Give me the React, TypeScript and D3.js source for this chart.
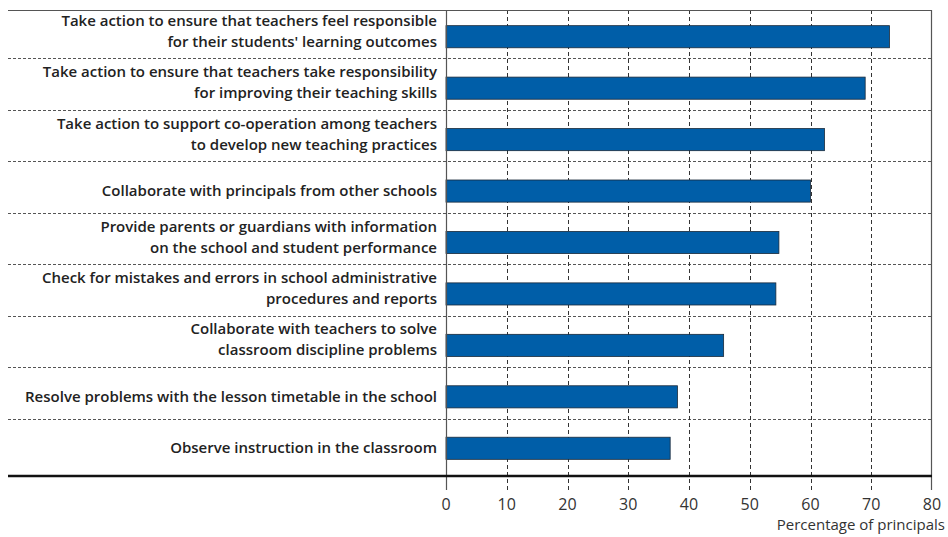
import React from "react";
import * as d3 from "d3";

const categories: string[][] = [
  ["Take action to ensure that teachers feel responsible", "for their students' learning outcomes"],
  ["Take action to ensure that teachers take responsibility", "for improving their teaching skills"],
  ["Take action to support co-operation among teachers", "to develop new teaching practices"],
  ["Collaborate with principals from other schools"],
  ["Provide parents or guardians with information", "on the school and student performance"],
  ["Check for mistakes and errors in school administrative", "procedures and reports"],
  ["Collaborate with teachers to solve", "classroom discipline problems"],
  ["Resolve problems with the lesson timetable in the school"],
  ["Observe instruction in the classroom"],
];
const values: number[] = [73.0, 69.0, 62.3, 60.0, 54.8, 54.3, 45.7, 38.1, 36.9];
const xTicks: number[] = [0, 10, 20, 30, 40, 50, 60, 70, 80];
const xTitle = "Percentage of principals";

const W = 948;
const H = 537;
const left = 446;
const right = 932;
const top = 10;
const bottom = 476;
const frameLeft = 8;

export default function App() {
  const ids = categories.map((_, i) => String(i));
  const x = d3.scaleLinear().domain([0, 80]).range([left, right]);
  const y = d3.scaleBand<string>().domain(ids).range([11, 474]).paddingInner(0.57).paddingOuter(0.285);
  const step = y.step();
  const bw = y.bandwidth();
  const labelFont = "'Open Sans', sans-serif";

  return (
    <svg width={W} height={H} style={{ position: "absolute", left: 0, top: 0, background: "#fff" }}>
      {/* row dividers */}
      {ids.slice(0, ids.length - 1).map((id) => {
        const yy = Math.round((y(id) as number) + bw / 2 + step / 2 - 4) + 0.5;
        return (
          <line key={"d" + id} x1={frameLeft} x2={right} y1={yy} y2={yy} stroke="#555" strokeWidth={1} strokeDasharray="3,2" />
        );
      })}
      {/* vertical gridlines */}
      {xTicks.slice(1, xTicks.length - 1).map((t) => (
        <line key={"g" + t} x1={Math.round(x(t)) + 0.5} x2={Math.round(x(t)) + 0.5} y1={top} y2={490} stroke="#333" strokeWidth={1} strokeDasharray="4,3" />
      ))}
      {/* bars */}
      {values.map((v, i) => (
        <rect key={"b" + i} x={x(0)} y={y(String(i))} width={x(v) - x(0)} height={bw} fill="#005EA8" stroke="#1a2a3a" strokeWidth={0.8} />
      ))}
      {/* frame */}
      <line x1={frameLeft} x2={right} y1={top + 0.5} y2={top + 0.5} stroke="#555" strokeWidth={1.2} />
      <line x1={left + 0.5} x2={left + 0.5} y1={top} y2={490} stroke="#555" strokeWidth={1.2} />
      <line x1={right - 0.5} x2={right - 0.5} y1={top} y2={490} stroke="#555" strokeWidth={1.2} />
      <line x1={frameLeft} x2={right} y1={bottom} y2={bottom} stroke="#111" strokeWidth={2.5} />
      {/* category labels */}
      {categories.map((lines, i) => {
        const c = (y(String(i)) as number) + bw / 2;
        const baselines = lines.length === 2 ? [c - 11, c + 10] : [c + 5];
        return (
          <text key={"l" + i} textAnchor="end" fontFamily={labelFont} fontWeight={600} fontSize={15} fill="#222">
            {lines.map((ln, j) => (
              <tspan key={j} x={437} y={baselines[j]}>{ln}</tspan>
            ))}
          </text>
        );
      })}
      {/* tick labels */}
      {xTicks.map((t) => (
        <text key={"t" + t} x={x(t)} y={510} textAnchor="middle" fontFamily={labelFont} fontSize={16} fill="#333">
          {t}
        </text>
      ))}
      <text x={945} y={530} textAnchor="end" fontFamily={labelFont} fontSize={15} fill="#333">
        {xTitle}
      </text>
    </svg>
  );
}
